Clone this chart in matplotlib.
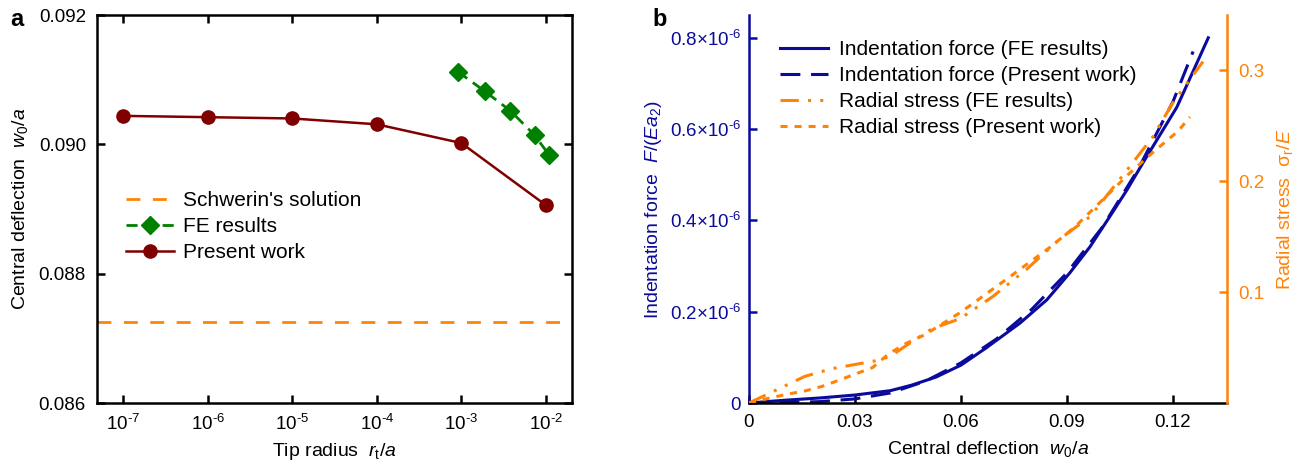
import numpy as np
import matplotlib.pyplot as plt
from matplotlib.ticker import FixedLocator, NullLocator

plt.rcParams['font.family'] = ['Liberation Sans', 'DejaVu Sans']
plt.rcParams['mathtext.fontset'] = 'custom'
plt.rcParams['mathtext.rm'] = 'Liberation Sans'
plt.rcParams['mathtext.it'] = 'Liberation Sans:italic'
plt.rcParams['mathtext.default'] = 'regular'

# panel a data
tip_radius = [1e-7, 1e-6, 1e-5, 1e-4, 1e-3, 1e-2]
tip_labels = ['7', '6', '5', '4', '3', '2']
present_defl = [0.09044, 0.09042, 0.09040, 0.09031, 0.09002, 0.08906]
fe_radius = [0.00092, 0.0019, 0.0038, 0.0074, 0.011]
fe_defl = [0.09112, 0.09082, 0.09052, 0.09014, 0.08983]
schwerin_defl = 0.08725

# panel b data
w_force_fe = [0, 0.01, 0.02, 0.03, 0.04, 0.046, 0.053, 0.06, 0.067, 0.0767,
              0.0843, 0.0908, 0.0965, 0.102, 0.107, 0.1115, 0.1211, 0.13]
force_fe = [0, 0.006, 0.011, 0.0175, 0.027, 0.039, 0.057, 0.083, 0.12, 0.175,
            0.226, 0.285, 0.342, 0.407, 0.467, 0.526, 0.648, 0.80]
w_force_pw = [0, 0.01, 0.02, 0.03, 0.04, 0.05, 0.06, 0.07, 0.08, 0.09, 0.10,
              0.11, 0.12, 0.1257]
force_pw = [0, 0.001, 0.003, 0.009, 0.022, 0.048, 0.088, 0.14, 0.205, 0.285,
            0.385, 0.51, 0.66, 0.77]
w_stress_fe = [0, 0.0158, 0.0235, 0.0357, 0.04, 0.0441, 0.0518, 0.0597, 0.069,
               0.0787, 0.088, 0.0965, 0.101, 0.105, 0.1143, 0.12, 0.1285]
stress_fe = [0, 0.024, 0.031, 0.038, 0.042, 0.051, 0.067, 0.076, 0.096, 0.121,
             0.148, 0.168, 0.186, 0.202, 0.24, 0.271, 0.308]
w_stress_pw = [0, 0.0065, 0.011, 0.016, 0.0207, 0.025, 0.03, 0.035, 0.0394,
               0.044, 0.05, 0.0555, 0.06, 0.0739, 0.085, 0.0923, 0.1016,
               0.1073, 0.1143, 0.118, 0.1214, 0.1248]
stress_pw = [0, 0.005, 0.008, 0.011, 0.015, 0.02, 0.026, 0.032, 0.044, 0.053,
             0.062, 0.073, 0.082, 0.114, 0.14, 0.159, 0.188, 0.206, 0.226,
             0.236, 0.245, 0.258]
force_ticks = [0, 0.2, 0.4, 0.6, 0.8]
stress_ticks = [0.1, 0.2, 0.3]

blue = '#0a0a9c'
orange = '#ff8307'
fs = 13.5     # tick labels
fl = 14       # axis labels
fleg = 15     # legend

fig = plt.figure(figsize=(13.01, 4.74), dpi=100)

# ---- panel a ----
ax1 = fig.add_axes([97/1301, 1-403/474, (572-97)/1301, 388/474])
ax1.axhline(schwerin_defl, color=orange, lw=2, dashes=(5, 4.5), label="Schwerin's solution")
ax1.plot(fe_radius, fe_defl, color='#008000', lw=2, dashes=(4, 2.5), marker='D', ms=9,
         label='FE results')
ax1.plot(tip_radius, present_defl, color='#800000', lw=1.8, marker='o', ms=9.5,
         label='Present work')
ax1.set_xscale('log')
ax1.set_xlim(10**-7.31, 10**-1.69)
ax1.set_ylim(0.086, 0.092)
ax1.xaxis.set_major_locator(FixedLocator(tip_radius))
ax1.xaxis.set_minor_locator(NullLocator())
ax1.set_xticklabels([r'10$^{\text{-}%s}$' % t for t in tip_labels])
ax1.set_yticks([0.086, 0.088, 0.090, 0.092])
ax1.set_yticklabels(['0.086', '0.088', '0.090', '0.092'])
ax1.tick_params(direction='in', length=6, width=1.8, top=True, right=True,
                labelsize=fs, pad=8)
for s in ax1.spines.values():
    s.set_linewidth(1.8)
ax1.set_xlabel(r'Tip radius  $\mathit{r}_\mathrm{t}/\mathit{a}$', fontsize=fl, labelpad=5)
ax1.set_ylabel(r'Central deflection  $\mathit{w}_0/\mathit{a}$', fontsize=fl, labelpad=6)
ax1.legend(loc='center left', bbox_to_anchor=(0.062, 0.455), frameon=False,
           fontsize=fleg, handlelength=2.3, handletextpad=0.4, labelspacing=0.33,
           borderpad=0, borderaxespad=0)
fig.text(10/1301, 1-8/474, 'a', fontsize=17, fontweight='bold', va='top')

# ---- panel b ----
ax2 = fig.add_axes([749/1301, 1-403/474, (1227-749)/1301, 388/474])
ax3 = ax2.twinx()
l1, = ax2.plot(w_force_fe, force_fe, color=blue, lw=2.2,
               label='Indentation force (FE results)')
l2, = ax2.plot(w_force_pw, force_pw, color=blue, lw=2.2, dashes=(6.5, 3.5),
               label='Indentation force (Present work)')
l3, = ax3.plot(w_stress_fe, stress_fe, color=orange, lw=2.2,
               dashes=(6, 3, 1, 3, 1, 3), label='Radial stress (FE results)')
l4, = ax3.plot(w_stress_pw, stress_pw, color=orange, lw=2.2, dashes=(2.3, 2.3),
               label='Radial stress (Present work)')

ax2.set_xlim(0, 0.1353)
ax2.set_ylim(0, 0.85)
ax3.set_ylim(0, 0.35)
ax2.set_xticks([0, 0.03, 0.06, 0.09, 0.12])
ax2.set_xticklabels(['0', '0.03', '0.06', '0.09', '0.12'])
ax2.set_yticks(force_ticks)
ax2.set_yticklabels(['0'] + [r'%.1f$\times$10$^{\text{-}6}$' % v for v in force_ticks[1:]])
ax3.set_yticks(stress_ticks)
ax3.set_yticklabels(['%.1f' % v for v in stress_ticks])

ax2.spines['top'].set_visible(False)
ax3.spines['top'].set_visible(False)
ax2.spines['right'].set_visible(False)
ax3.spines['left'].set_visible(False)
ax3.spines['bottom'].set_visible(False)
ax2.spines['left'].set_color(blue)
ax3.spines['right'].set_color(orange)
for s in ['left', 'bottom']:
    ax2.spines[s].set_linewidth(1.8)
ax3.spines['right'].set_linewidth(1.8)

ax2.tick_params(axis='x', direction='in', length=6, width=1.8, labelsize=fs, pad=8)
ax2.tick_params(axis='y', direction='in', length=6, width=1.8, colors=blue,
                labelsize=fs, pad=6)
ax3.tick_params(axis='y', direction='in', length=6, width=1.8, colors=orange,
                labelsize=fs, pad=8)

ax2.set_xlabel(r'Central deflection  $\mathit{w}_0/\mathit{a}$', fontsize=fl, labelpad=6)
ax2.set_ylabel(r'Indentation force  $\mathit{F}/(\mathit{Ea}_2)$', fontsize=fl,
               color=blue, labelpad=4)
ax3.set_ylabel(r'Radial stress  $\sigma_\mathrm{r}/\mathit{E}$', fontsize=fl,
               color=orange, rotation=90, labelpad=8)

ax2.legend(handles=[l1, l2, l3, l4], loc='center left', bbox_to_anchor=(0.065, 0.81),
           frameon=False, fontsize=fleg, handlelength=2.3, handletextpad=0.55,
           labelspacing=0.33, borderpad=0, borderaxespad=0)
fig.text(652/1301, 1-8/474, 'b', fontsize=17, fontweight='bold', va='top')

fig.savefig('out.png', dpi=100)
